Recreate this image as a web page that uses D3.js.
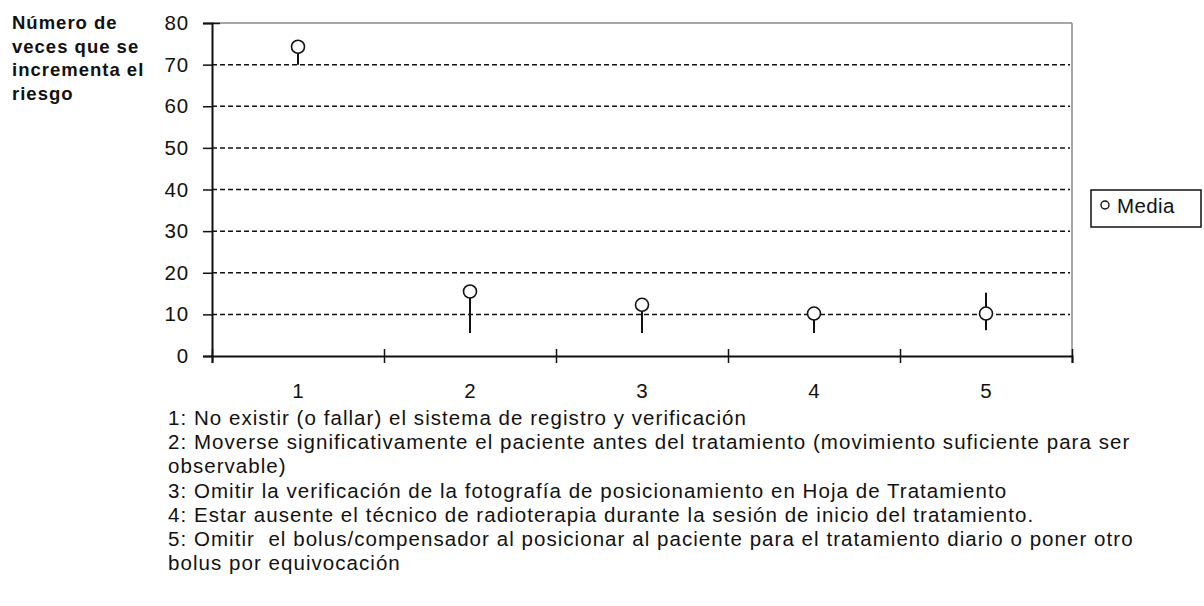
<!DOCTYPE html>
<html><head><meta charset="utf-8">
<script src="https://cdn.jsdelivr.net/npm/d3@7"></script>
<style>
html,body{margin:0;padding:0;background:#fff;}
svg text{font-family:"Liberation Sans",Arial,sans-serif;fill:#111;}
</style></head>
<body>
<svg id="c" width="1204" height="606"></svg>
<script>
const categories = [1, 2, 3, 4, 5];
const meanValues = [74.3, 15.5, 12.3, 10.2, 10.2];
const lowerValues = [70, 5.5, 5.5, 5.5, 6.2];
const upperValues = [74.3, 16, 13.5, 11, 15.2];
const yTicks = [0, 10, 20, 30, 40, 50, 60, 70, 80];
const yTitleLines = ["Número de", "veces que se", "incrementa el", "riesgo"];
const legendLabel = "Media";
const noteLines = [
  "1: No existir (o fallar) el sistema de registro y verificación",
  "2: Moverse significativamente el paciente antes del tratamiento (movimiento suficiente para ser",
  "observable)",
  "3: Omitir la verificación de la fotografía de posicionamiento en Hoja de Tratamiento",
  "4: Estar ausente el técnico de radioterapia durante la sesión de inicio del tratamiento.",
  "5: Omitir  el bolus/compensador al posicionar al paciente para el tratamiento diario o poner otro",
  "bolus por equivocación"
];

const svg = d3.select("#c");
const mLeft = 212, mRight = 1072, mTop = 23, mBottom = 356;
const x = d3.scaleLinear().domain([0.5, 5.5]).range([mLeft, mRight]);
const y = d3.scaleLinear().domain([0, 80]).range([mBottom, mTop]);

// plot frame (top & right in gray)
svg.append("line").attr("x1", mLeft).attr("x2", mRight).attr("y1", y(80)).attr("y2", y(80))
  .attr("stroke", "#8a8a8a").attr("stroke-width", 1.5);
svg.append("line").attr("x1", mRight).attr("x2", mRight).attr("y1", y(80)).attr("y2", y(0))
  .attr("stroke", "#8a8a8a").attr("stroke-width", 1.5);

// gridlines
svg.append("g").selectAll("line").data(yTicks.filter(d => d > 0 && d < 80)).join("line")
  .attr("x1", mLeft).attr("x2", mRight - 2)
  .attr("y1", d => y(d)).attr("y2", d => y(d))
  .attr("stroke", "#111").attr("stroke-width", 1.5).attr("stroke-dasharray", "5,3");

// y axis
const yAxis = svg.append("g").attr("transform", `translate(${mLeft},0)`)
  .call(d3.axisLeft(y).tickValues(yTicks).tickSize(9).tickPadding(14));
yAxis.select(".domain").attr("stroke", "#111").attr("stroke-width", 2);
yAxis.selectAll(".tick line").attr("x2", -9).attr("x1", d => d === 80 ? 8 : 0)
  .attr("stroke", "#111").attr("stroke-width", 1.5);
yAxis.selectAll(".tick text").attr("font-size", 20.5).attr("letter-spacing", 0.8)
  .style("font-family", '"Liberation Sans",Arial,sans-serif').attr("fill", "#222");

// x axis
const xAxis = svg.append("g").attr("transform", `translate(0,${mBottom})`)
  .call(d3.axisBottom(x).tickValues(d3.range(0.5, 6, 1)).tickSize(7).tickFormat(""));
xAxis.select(".domain").attr("stroke", "#111").attr("stroke-width", 2);
xAxis.selectAll(".tick line").attr("y1", -7).attr("y2", 7).attr("stroke", "#111").attr("stroke-width", 1.5);

svg.append("g").selectAll("text").data(categories).join("text")
  .attr("x", d => x(d)).attr("y", 398).attr("text-anchor", "middle")
  .attr("font-size", 20.5).attr("fill", "#222").text(d => d);

// error bars
svg.append("g").selectAll("line").data(categories).join("line")
  .attr("x1", d => x(d)).attr("x2", d => x(d))
  .attr("y1", (d, i) => y(lowerValues[i])).attr("y2", (d, i) => y(upperValues[i]))
  .attr("stroke", "#111").attr("stroke-width", 2);

// means
svg.append("g").selectAll("circle").data(categories).join("circle")
  .attr("cx", d => x(d)).attr("cy", (d, i) => y(meanValues[i])).attr("r", 6.5)
  .attr("fill", "#fff").attr("stroke", "#111").attr("stroke-width", 1.6);

// y title
svg.append("g").selectAll("text").data(yTitleLines).join("text")
  .attr("x", 12).attr("y", (d, i) => 29 + i * 23.7)
  .attr("font-size", 18.5).attr("font-weight", "bold").attr("letter-spacing", 1)
  .attr("fill", "#000").text(d => d);

// legend
const lg = svg.append("g");
lg.append("rect").attr("x", 1091).attr("y", 190).attr("width", 110).attr("height", 37)
  .attr("fill", "#fff").attr("stroke", "#111").attr("stroke-width", 1.5);
lg.append("circle").attr("cx", 1105).attr("cy", 205).attr("r", 4)
  .attr("fill", "#fff").attr("stroke", "#111").attr("stroke-width", 1.4);
lg.append("text").attr("x", 1117).attr("y", 213).attr("font-size", 20.5).attr("letter-spacing", 0.4)
  .attr("fill", "#222").text(legendLabel);

// notes
svg.append("g").selectAll("text").data(noteLines).join("text")
  .attr("x", 168).attr("y", (d, i) => 425 + i * 24.2)
  .attr("font-size", 20.5).attr("letter-spacing", 1.05).attr("fill", "#222")
  .style("white-space", "pre").attr("xml:space", "preserve").text(d => d);
</script>
</body></html>
